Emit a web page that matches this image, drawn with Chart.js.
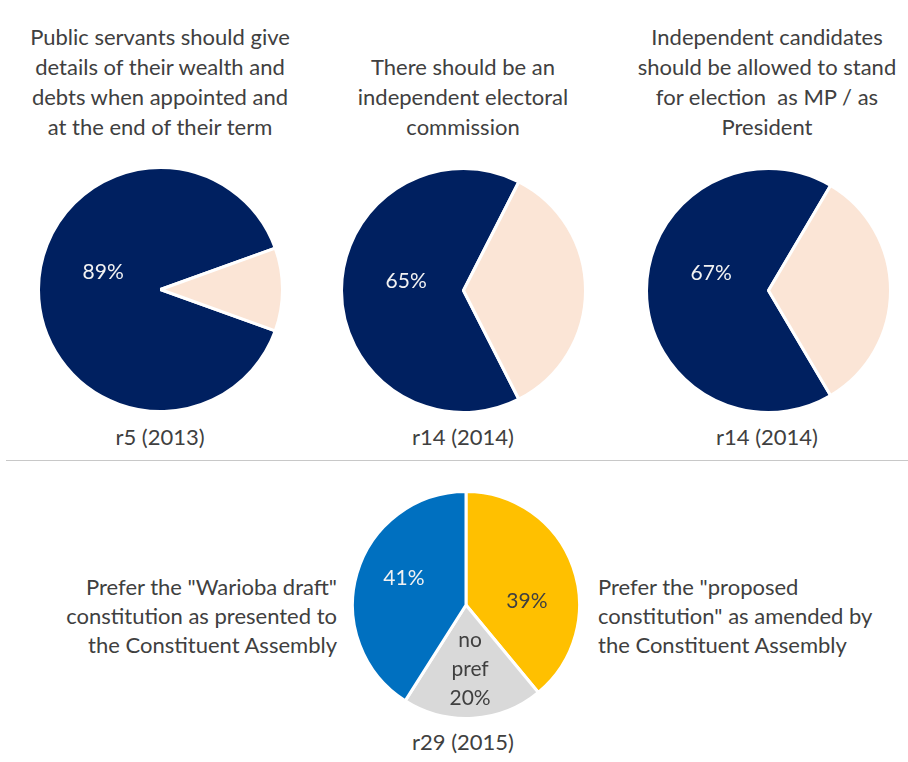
<!DOCTYPE html>
<html>
<head>
<meta charset="utf-8">
<script src="https://cdn.jsdelivr.net/npm/chart.js@4.4.0/dist/chart.umd.min.js"></script>
<style>
    body { margin: 0; background: #fff; }
    #page { position: relative; width: 908px; height: 762px; overflow: hidden;
        font-family: Lato, "Open Sans", sans-serif; color: #404040; }
    .title { position: absolute; width: 340px; text-align: center; font-size: 22px; line-height: 30px; }
    .round { position: absolute; width: 200px; text-align: center; font-size: 22px; line-height: 30px; }
    .side { position: absolute; width: 320px; font-size: 22px; line-height: 29px; }
    canvas { position: absolute; }
    #sep { position: absolute; left: 6px; top: 460px; width: 902px; height: 1px; background: #c8c8c8; }
</style>
</head>
<body>
<div id="page">
    <div class="title" style="left:-10px;bottom:620px">Public servants should give<br>details of their wealth and<br>debts when appointed and<br>at the end of their term</div>
    <div class="title" style="left:293px;bottom:620px">There should be an<br>independent electoral<br>commission</div>
    <div class="title" style="left:597px;bottom:620px">Independent candidates<br>should be allowed to stand<br>for election &nbsp;as MP / as<br>President</div>

    <canvas id="pie0" width="247" height="247" style="left:37px;top:166px"></canvas>
    <canvas id="pie1" width="247" height="247" style="left:340px;top:167px"></canvas>
    <canvas id="pie2" width="247" height="247" style="left:645px;top:167px"></canvas>

    <div class="round" id="round0" style="left:60px;top:422px"></div>
    <div class="round" id="round1" style="left:363px;top:422px"></div>
    <div class="round" id="round2" style="left:667px;top:422px"></div>

    <div id="sep"></div>

    <div class="side" style="left:17px;top:572px;text-align:right">Prefer the "Warioba draft"<br>constitution as presented to<br>the Constituent Assembly</div>
    <div class="side" style="left:598px;top:572px;text-align:left">Prefer the "proposed<br>constitution" as amended by<br>the Constituent Assembly</div>

    <canvas id="pie3" width="230" height="230" style="left:351px;top:490px"></canvas>
    <div class="round" id="round3" style="left:363px;top:727px"></div>
</div>

<script>
// top row: share agreeing vs. the rest
const topRounds = ['r5 (2013)', 'r14 (2014)', 'r14 (2014)'];
const topAgree = [89, 65, 67];
const topOther = [11, 35, 33];

// bottom: constitution preference
const bottomRound = 'r29 (2015)';
const bottomLabels = ['39%', 'no\npref\n20%', '41%'];
const bottomValues = [39, 20, 41];

const navy = '#002060';
const peach = '#fbe5d6';

const pieLabels = {
    id: 'pieLabels',
    afterDatasetsDraw(chart, args, opts) {
        const ctx = chart.ctx;
        const arcs = chart.getDatasetMeta(0).data;
        ctx.save();
        ctx.font = '21px Lato, "Open Sans", sans-serif';
        ctx.textAlign = 'center';
        ctx.textBaseline = 'middle';
        arcs.forEach((arc, i) => {
            const text = opts.texts[i];
            if (!text) return;
            const p = arc.getProps(['x', 'y', 'startAngle', 'endAngle', 'outerRadius']);
            const mid = (p.startAngle + p.endAngle) / 2;
            const r = p.outerRadius * opts.radius;
            const nudge = (opts.nudge && opts.nudge[i]) || 0;
            const x = p.x + Math.cos(mid) * r;
            const y = p.y + Math.sin(mid) * r + nudge;
            const lines = text.split('\n');
            ctx.fillStyle = opts.colors[i];
            lines.forEach((ln, k) => {
                ctx.fillText(ln, x, y + (k - (lines.length - 1) / 2) * 29);
            });
        });
        ctx.restore();
    }
};

function makePie(id, values, colors, rotation, labelOpts) {
    return new Chart(document.getElementById(id), {
        type: 'pie',
        data: {
            datasets: [{
                data: values,
                backgroundColor: colors,
                borderColor: '#ffffff',
                borderWidth: 3,
            }]
        },
        options: {
            responsive: false,
            animation: false,
            rotation: rotation,
            layout: { padding: 0 },
            plugins: {
                legend: { display: false },
                tooltip: { enabled: false },
                pieLabels: labelOpts,
            }
        },
        plugins: [pieLabels]
    });
}

const topNudge = [-17, -9, -17];
for (let i = 0; i < 3; i++) {
    // peach slice sits centred on 3 o'clock
    const rot = 90 - (topAgree[i] + topOther[i] / 2) * 3.6;
    makePie('pie' + i, [topAgree[i], topOther[i]], [navy, peach], rot, {
        texts: [topAgree[i] + '%', null],
        colors: ['#f2f2f2', '#404040'],
        radius: 0.47,
        nudge: [topNudge[i], 0],
    });
    document.getElementById('round' + i).textContent = topRounds[i];
}

makePie('pie3', bottomValues, ['#ffc000', '#d9d9d9', '#0070c0'], 0, {
    texts: bottomLabels,
    colors: ['#404040', '#404040', '#f2f2f2'],
    radius: 0.57,
    nudge: [18, 0, -9],
});
document.getElementById('round3').textContent = bottomRound;
</script>
</body>
</html>
